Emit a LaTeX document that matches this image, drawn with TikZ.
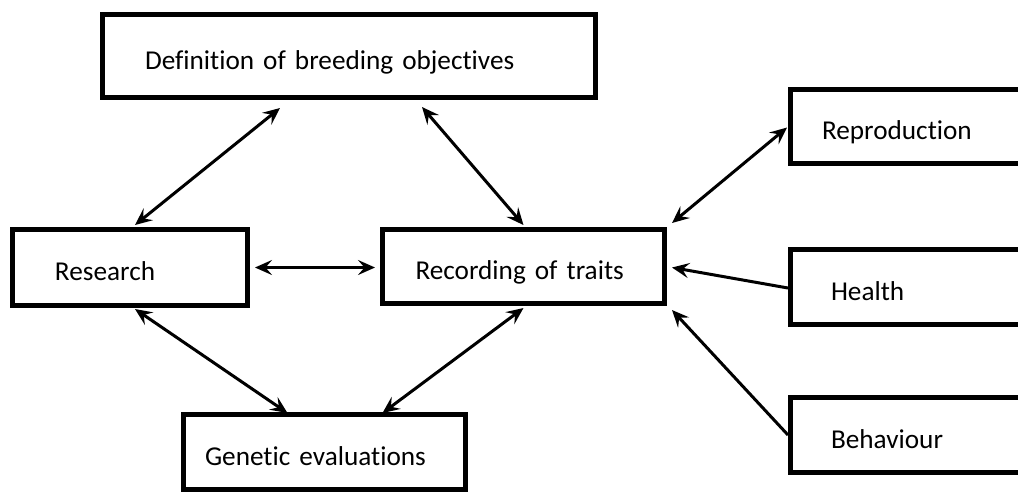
\documentclass[tikz,border=0pt]{standalone}
\usepackage{fontspec}
\setmainfont{Carlito}[Ligatures={NoCommon,NoRare,NoContextual}]
\usepackage{tikz}
\usetikzlibrary{arrows.meta,calc}
\tikzset{
  box/.style ={rectangle, draw=black, line width=1mm, fill=white, align=left,
               inner ysep=2pt, text height=6.6mm, text depth=1.4mm,
               font=\fontsize{15.5}{18}\selectfont},
  dbl/.style ={{Stealth[length=3.4mm,width=3mm,inset=1.3mm]}-{Stealth[length=3.4mm,width=3mm,inset=1.3mm]},
               line width=0.6mm},
  arr/.style ={-{Stealth[length=3.4mm,width=3mm,inset=1.3mm]}, line width=0.6mm},
}

\begin{document}
\begin{tikzpicture}[x=0.2mm, y=-0.2mm]
  \useasboundingbox (0,0) rectangle (1018,495);
  \clip (0,0) rectangle (1018,495);
  % boxes
  \node[box, minimum width=98.6mm, minimum height=16.6mm, inner xsep=8.5mm, text width=81.6mm] (defn) at (349,56) {Definition of breeding objectives};
  \node[box, minimum width=47mm, minimum height=15.2mm, inner xsep=8.5mm, text width=30mm] (research) at (130,267.5) {Research};
  \node[box, minimum width=56.4mm, minimum height=14.8mm, inner xsep=6.6mm, text width=43.2mm] (record) at (523.5,266.5) {Recording of traits};
  \node[box, minimum width=56.4mm, minimum height=15mm, inner xsep=4.3mm, text width=47.8mm] (genetic) at (324.5,452) {Genetic evaluations};
  \node[box, minimum width=55.4mm, minimum height=14.8mm, inner xsep=6.3mm, text width=42.8mm] (repro) at (929,126.5) {Reproduction};
  \node[box, minimum width=55.4mm, minimum height=15mm, inner xsep=8.1mm, text width=39.2mm] (health) at (929,287) {Health};
  \node[box, minimum width=55.4mm, minimum height=15mm, inner xsep=8.1mm, text width=39.2mm] (behav) at (929,435) {Behaviour};
  % connectors
  \draw[dbl] ($(defn.south)+(-69,8)$) -- ($(research.north)+(5,-2)$);
  \draw[dbl] ($(defn.south)+(73,7)$) -- ($(record.north)+(0,-2)$);
  \draw[dbl] ($(research.east)+(5,0)$) -- ($(record.west)+(-5,1)$);
  \draw[dbl] ($(research.south)+(5,1)$) -- ($(genetic.north)+(-37,1)$);
  \draw[dbl] ($(record.south)+(0,2)$) -- ($(genetic.north)+(58,1)$);
  \draw[dbl] ($(repro.west)+(-1,1)$) -- ($(record.north east)+(5,-4)$);
  \draw[arr] ($(health.west)+(0,1)$) -- ($(record.east)+(5,1)$);
  \draw[arr] (behav.west) -- ($(record.south east)+(5,4)$);
\end{tikzpicture}
\end{document}
